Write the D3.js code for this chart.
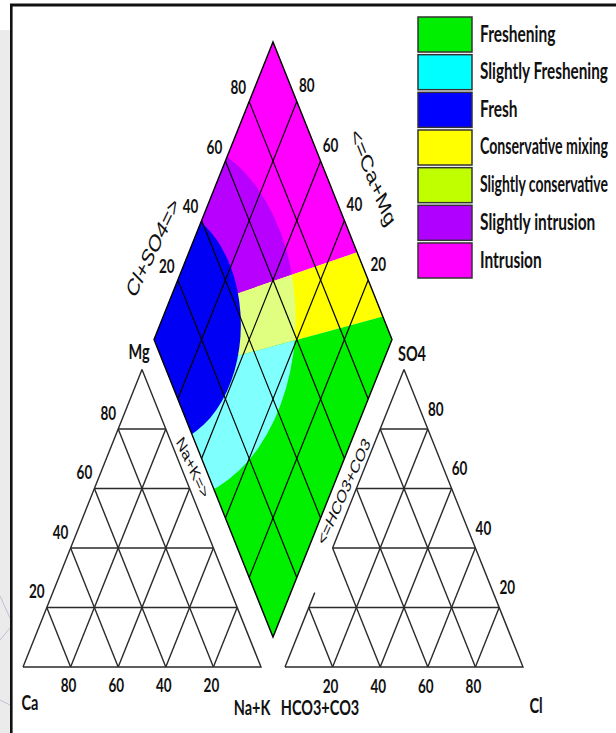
<!DOCTYPE html>
<html>
<head>
<meta charset="utf-8">
<script src="https://cdn.jsdelivr.net/npm/d3@7/dist/d3.min.js"></script>
<style>
  html, body { margin: 0; padding: 0; background: #fff; overflow: hidden; }
  svg { display: block; }
</style>
</head>
<body>
<svg id="chart" width="616" height="733"></svg>
<script>
// ---- Chart data -------------------------------------------------------
// Grid levels (%) used by every ternary field
const gridLevels = [20, 40, 60, 80];
// Tick labels of the cation triangle
const caTicks = [80, 60, 40, 20];      // along the base (Ca %)
const mgTicks = [20, 40, 60, 80];      // along the left side (Mg %)
// Tick labels of the anion triangle
const clTicks = [20, 40, 60, 80];      // along the base (Cl %)
const so4Ticks = [80, 60, 40, 20];     // along the right side (SO4 %)
// Tick labels of the diamond
const clSo4Ticks = [20, 40, 60, 80];   // upper-left side (Cl+SO4 %)
const caMgTicks = [80, 60, 40, 20];    // upper-right side (Ca+Mg %)

// Facies classes shown in the legend
const faciesNames = ["Freshening", "Slightly Freshening", "Fresh", "Conservative mixing",
                     "Slightly conservative", "Slightly intrusion", "Intrusion"];

// Facies zones in the diamond, as [Cl+SO4 %, Ca+Mg %]
const upperMixingLine = [[6.7, 100], [100, 29.3]];
const lowerMixingLine = [[0, 88.2], [100, 7.7]];
// Circular zones: centre [Cl+SO4 %, Ca+Mg %], radius in % of the diamond side
const freshCircle = { p: 4, q: 101, r: 35 };
const transitionCircle = { p: 10, q: 97, r: 53 };

// ---- Styles -------------------------------------------------------------
const legendColors = ["#00ee00", "#00ffff", "#0000ff", "#ffff00", "#c0ff00", "#b000ff", "#ff00ff"];
// zone colours: [above upper line, between lines, below lower line]
const outerZoneColors = ["#ff00ff", "#ffff00", "#00f000"];
const innerZoneColors = ["#b800ff", "#e0ff80", "#80ffff"];
const freshColor = "#0000f5";
const STRETCH = 1.435;               // vertical stretch applied to text
const labelFont = "Lato, 'Open Sans', sans-serif";
const titleFont = "'Liberation Sans', Arial, sans-serif";

// ---- Layout ---------------------------------------------------------------
const svg = d3.select("#chart");
const SQ3 = Math.sqrt(3) / 2;
const sx = d3.scaleLinear().domain([0, 100]).range([0, 238]);
const sy = d3.scaleLinear().domain([0, 100 * SQ3]).range([0, 297.5]);

const baseY = 667;
const cationOrigin = { x: 23, y: baseY };    // Ca corner
const anionOrigin = { x: 285, y: baseY };    // HCO3+CO3 corner
const diamondLeft = { x: 154, y: 339.5 };    // Ca+Mg = 100, Cl+SO4 = 0

// ternary point: right = right-corner %, top = apex %
const tri = (o, right, top) => [o.x + sx(right + top / 2), o.y - sy(top * SQ3)];
// diamond point: p = Cl+SO4 %, q = Ca+Mg %
const dia = (p, q) => [diamondLeft.x + sx(50 + (p - q) / 2), diamondLeft.y - sy(SQ3 * (p + q - 100))];

const line = d3.line();

// page background and frame
svg.append("rect").attr("width", 616).attr("height", 733).attr("fill", "#fff");
svg.append("rect").attr("x", 0).attr("y", 30).attr("width", 10).attr("height", 703).attr("fill", "#ebebeb");
const margin = svg.append("g").attr("stroke", "#94a3c4").attr("stroke-width", 0.8).attr("opacity", 0.7);
margin.append("line").attr("x1", 0).attr("y1", 596).attr("x2", 10).attr("y2", 618);
margin.append("line").attr("x1", 0).attr("y1", 640).attr("x2", 10).attr("y2", 628);
margin.append("line").attr("x1", 0).attr("y1", 700).attr("x2", 10).attr("y2", 705);
svg.append("line").attr("x1", 10).attr("y1", 5).attr("x2", 616).attr("y2", 5)
  .attr("stroke", "#111").attr("stroke-width", 3.2);
svg.append("line").attr("x1", 11.3).attr("y1", 4).attr("x2", 11.3).attr("y2", 733)
  .attr("stroke", "#111").attr("stroke-width", 2.6);

// text helper: vertically stretched text
function stretchedText(g, str, x, y, opts = {}) {
  return g.append("text")
    .attr("transform", `translate(${x},${y}) scale(1,${opts.stretch || STRETCH}) rotate(${opts.rotate || 0})`)
    .attr("text-anchor", opts.anchor || "middle")
    .attr("dominant-baseline", "central")
    .attr("font-family", opts.family || labelFont)
    .attr("font-weight", opts.weight || "bold")
    .attr("font-size", opts.size || 13.5)
    .attr("fill", "#111")
    .text(str);
}

// ---- Diamond facies zones --------------------------------------------------
const defs = svg.append("defs");
const diamondCorners = [[0, 100], [100, 100], [100, 0], [0, 0]].map(d => dia(d[0], d[1]));
defs.append("clipPath").attr("id", "clip-diamond")
  .append("path").attr("d", line(diamondCorners) + "Z");

const zonePolys = [
  [upperMixingLine[0], [100, 100], upperMixingLine[1]],
  [lowerMixingLine[0], [0, 100], upperMixingLine[0], upperMixingLine[1], lowerMixingLine[1]],
  [[0, 0], lowerMixingLine[0], lowerMixingLine[1], [100, 0]]
];

const zones = svg.append("g").attr("clip-path", "url(#clip-diamond)");
zonePolys.forEach((poly, i) => {
  const pts = poly.map(d => dia(d[0], d[1]));
  defs.append("clipPath").attr("id", "clip-zone-" + i)
    .append("path").attr("d", line(pts) + "Z");
  zones.append("path").attr("d", line(pts) + "Z").attr("fill", outerZoneColors[i]);
  const c = dia(transitionCircle.p, transitionCircle.q);
  zones.append("ellipse")
    .attr("clip-path", `url(#clip-zone-${i})`)
    .attr("cx", c[0]).attr("cy", c[1])
    .attr("rx", sx(transitionCircle.r)).attr("ry", sy(transitionCircle.r))
    .attr("fill", innerZoneColors[i]);
});
const fc = dia(freshCircle.p, freshCircle.q);
zones.append("ellipse")
  .attr("cx", fc[0]).attr("cy", fc[1])
  .attr("rx", sx(freshCircle.r)).attr("ry", sy(freshCircle.r))
  .attr("fill", freshColor);

// diamond grid and outline
const dg = svg.append("g").attr("fill", "none").attr("stroke", "#000");
gridLevels.forEach(v => {
  dg.append("path").attr("d", line([dia(v, 0), dia(v, 100)])).attr("stroke-width", 1.2);
  dg.append("path").attr("d", line([dia(0, v), dia(100, v)])).attr("stroke-width", 1.2);
});
dg.append("path").attr("d", line(diamondCorners) + "Z").attr("stroke-width", 1.4);

// ---- Triangles ---------------------------------------------------------------
function drawTriangle(o, leftEdgeSegments) {
  const g = svg.append("g").attr("fill", "none").attr("stroke", "#2a2a2a").attr("stroke-width", 1.4);
  gridLevels.forEach(v => {
    g.append("path").attr("d", line([tri(o, 0, v), tri(o, 100 - v, v)]));
    g.append("path").attr("d", line([tri(o, v, 0), tri(o, v, 100 - v)]));
    g.append("path").attr("d", line([tri(o, 100 - v, 0), tri(o, 0, 100 - v)]));
  });
  g.append("path").attr("d", line([tri(o, 0, 0), tri(o, 100, 0), tri(o, 0, 100)]));
  leftEdgeSegments.forEach(s => g.append("path").attr("d", line([tri(o, 0, s[0]), tri(o, 0, s[1])])));
}
drawTriangle(cationOrigin, [[0, 100]]);
drawTriangle(anionOrigin, [[0, 25], [40, 100]]);

// ---- Labels ------------------------------------------------------------------
const labels = svg.append("g");
mgTicks.forEach(v => { const p = tri(cationOrigin, 0, v); stretchedText(labels, v, p[0] - 10, p[1] - 16); });
caTicks.forEach(v => { const p = tri(cationOrigin, 100 - v, 0); stretchedText(labels, v, p[0] - 2, p[1] + 18); });
so4Ticks.forEach(v => { const p = tri(anionOrigin, 100 - v, v); stretchedText(labels, v, p[0] + 8, p[1] - 20); });
clTicks.forEach(v => { const p = tri(anionOrigin, v, 0); stretchedText(labels, v, p[0] - 2, p[1] + 19); });
clSo4Ticks.forEach(v => { const p = dia(v, 100); stretchedText(labels, v, p[0] - 11, p[1] - 14); });
caMgTicks.forEach(v => { const p = dia(100, v); stretchedText(labels, v, p[0] + 10, p[1] - 16); });

// corner names
const mgApex = tri(cationOrigin, 0, 100);
stretchedText(labels, "Mg", mgApex[0] - 3, mgApex[1] - 19, { size: 14.5 });
stretchedText(labels, "Ca", cationOrigin.x + 7, baseY + 35, { size: 14.5 });
stretchedText(labels, "Na+K", tri(cationOrigin, 100, 0)[0] - 9, baseY + 40, { size: 14.5 });
const so4Apex = tri(anionOrigin, 0, 100);
stretchedText(labels, "SO4", so4Apex[0] + 8, so4Apex[1] - 17, { size: 14.5 });
stretchedText(labels, "HCO3+CO3", anionOrigin.x + 35, baseY + 40, { size: 14.5 });
stretchedText(labels, "Cl", tri(anionOrigin, 100, 0)[0] + 13, baseY + 38, { size: 14.5 });

// axis titles along the sides
const t1 = dia(35, 100);
stretchedText(labels, "Cl+SO4=>", t1[0] - 43, t1[1] + 12, { rotate: -55, family: titleFont, weight: "normal", size: 17 });
const t2 = dia(100, 62);
stretchedText(labels, "<=Ca+Mg", t2[0] + 55, t2[1] + 22, { rotate: 60, family: titleFont, weight: "normal", size: 17 });
const t3 = tri(cationOrigin, 50, 50);
stretchedText(labels, "Na+K=>", t3[0] - 8.5, t3[1] - 51, { rotate: 57, family: titleFont, weight: "normal", size: 13 });
const t4 = tri(anionOrigin, 0, 50);
stretchedText(labels, "<=HCO3+CO3", t4[0] - 1, t4[1] - 27, { rotate: -57, family: titleFont, weight: "normal", size: 13 });

// ---- Legend ------------------------------------------------------------------
const legendY = d3.scaleBand().domain(faciesNames).range([17, 278]).paddingInner(0.07);
const legend = svg.append("g");
const legendTextX = 480, legendRoom = 616 - 480 - 8, legendSize = 15.5;
faciesNames.forEach((name, i) => {
  const y = legendY(name);
  const cy = y + legendY.bandwidth() / 2 - 1.5;
  legend.append("rect")
    .attr("x", 418).attr("y", y).attr("width", 54).attr("height", legendY.bandwidth())
    .attr("fill", legendColors[i]).attr("stroke", "#333").attr("stroke-width", 1.5);
  const t = stretchedText(legend, name, legendTextX, cy, { anchor: "start", size: legendSize });
  // long names get a smaller, taller font so they stay inside the page
  const len = t.node().getComputedTextLength();
  if (len > legendRoom) {
    const size = legendSize * legendRoom / len;
    t.attr("font-size", size)
      .attr("transform", `translate(${legendTextX},${cy}) scale(1,${STRETCH * legendSize / size})`);
  }
});
</script>
</body>
</html>
